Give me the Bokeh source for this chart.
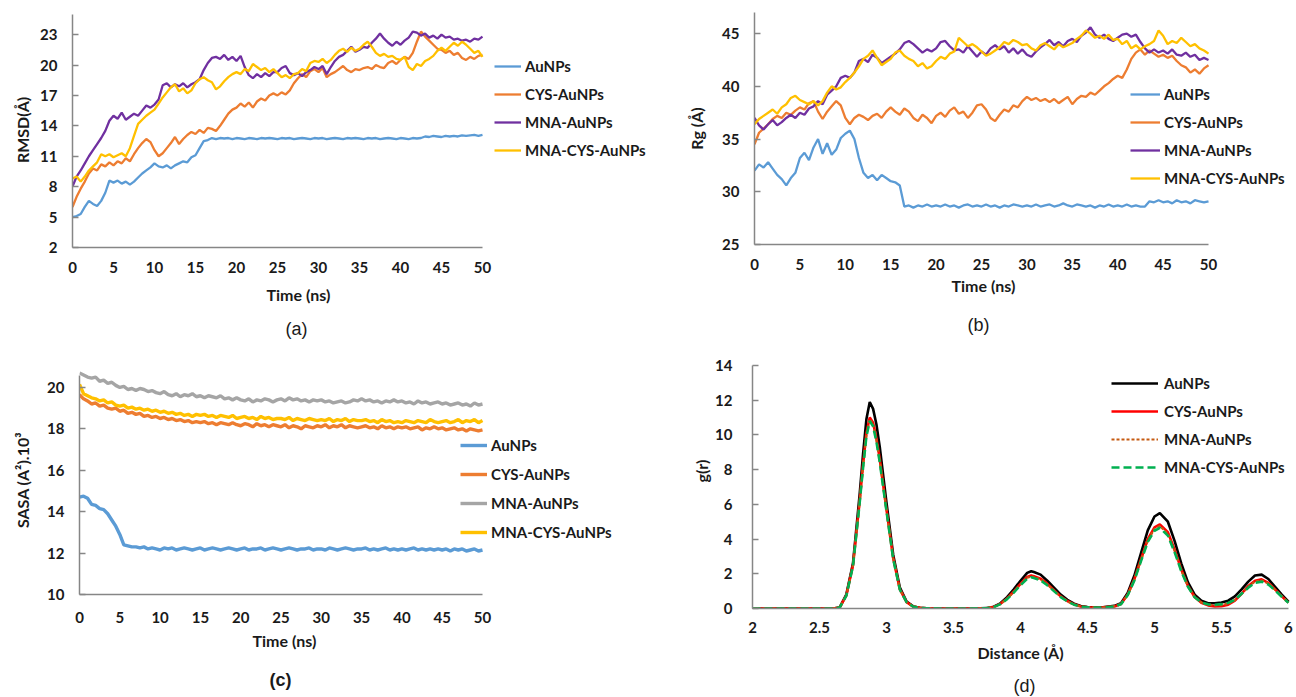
from bokeh.plotting import figure
from bokeh.layouts import column, row
from bokeh.models import Legend, LegendItem, Title, FixedTicker, Range1d, NumeralTickFormatter
from bokeh.embed import file_html
from bokeh.resources import INLINE

# ---------------- data ----------------
TIME_NS = [i * 0.5 for i in range(101)]
SERIES_NAMES = ["AuNPs", "CYS-AuNPs", "MNA-AuNPs", "MNA-CYS-AuNPs"]

RMSD_AUNPS = [5.0, 5.1, 5.3, 6.0, 6.6, 6.3, 6.1, 6.6, 7.4, 8.6,
              8.4, 8.6, 8.3, 8.5, 8.2, 8.5, 8.9, 9.3, 9.6, 9.9,
              10.3, 10.0, 9.9, 10.1, 9.8, 10.1, 10.3, 10.5, 10.4, 10.9,
              11.1, 11.8, 12.5, 12.6, 12.8, 12.7, 12.8, 12.75, 12.8, 12.7,
              12.8, 12.75, 12.7, 12.8, 12.75, 12.7, 12.8, 12.75, 12.8, 12.75,
              12.7, 12.8, 12.75, 12.8, 12.7, 12.75, 12.8, 12.75, 12.7, 12.8,
              12.75, 12.8, 12.7, 12.75, 12.8, 12.75, 12.7, 12.8, 12.75, 12.8,
              12.75, 12.7, 12.8, 12.75, 12.8, 12.7, 12.75, 12.8, 12.75, 12.7,
              12.8, 12.75, 12.7, 12.8, 12.75, 12.8, 12.95, 12.9, 13.0, 12.95,
              12.9, 13.0, 12.95, 13.0, 12.95, 13.05, 13.0, 13.05, 13.1, 13.0,
              13.1]
RMSD_CYS = [6.0, 7.0, 7.8, 8.5, 9.3, 9.8, 9.6, 10.2, 10.0, 10.4,
            10.1, 10.5, 10.3, 10.8, 10.5, 11.2, 11.8, 12.3, 12.7, 12.4,
            11.6, 11.0, 11.3, 11.8, 12.3, 12.9, 12.2, 12.7, 13.1, 13.4,
            13.2, 13.6, 13.3, 13.8, 13.7, 13.5, 14.0, 14.6, 15.2, 15.6,
            15.8, 16.2, 15.9, 16.3, 15.8, 16.4, 16.7, 16.5, 17.0, 17.2,
            17.0, 17.3, 17.1, 17.5, 18.2, 18.7, 19.1, 18.8, 19.4, 19.6,
            19.3, 19.7, 18.8, 19.1, 19.3, 19.6, 19.9, 19.5, 19.3, 19.6,
            19.5, 19.7, 19.8, 19.6, 20.0, 19.8, 19.7, 20.2, 20.4, 20.1,
            20.5, 20.8, 20.6, 21.2, 22.3, 23.3, 22.8, 22.4, 22.0, 21.6,
            21.5, 21.2, 21.4, 21.0, 21.2, 20.7, 20.5, 20.8, 20.6, 20.9,
            21.0]
RMSD_MNA = [8.0, 9.0, 9.6, 10.3, 11.0, 11.6, 12.2, 12.8, 13.5, 14.5,
            15.0, 14.7, 15.3, 14.6, 14.9, 15.2, 15.0, 15.5, 16.0, 15.8,
            16.1, 16.6, 18.0, 18.2, 17.8, 18.1, 17.9, 18.2, 17.8, 18.1,
            18.3, 18.6, 19.5, 20.2, 20.7, 20.8, 20.6, 21.0, 20.5, 20.8,
            20.4, 20.9, 19.8, 19.0, 18.7, 19.1, 18.8, 19.2, 18.9, 19.3,
            19.3, 19.7, 19.9, 19.2, 19.0, 19.2, 18.9, 19.3, 19.5, 19.8,
            19.6, 19.9, 19.1, 19.8, 20.4, 20.8, 21.0, 21.4, 21.8, 21.3,
            21.5, 21.8, 21.7, 22.2, 22.6, 23.1, 22.6, 22.2, 21.9, 22.3,
            22.0, 22.4, 22.7, 23.3, 23.2, 22.9, 23.1, 22.7, 22.9, 22.6,
            23.0, 22.7, 22.8, 22.5, 22.6, 22.4, 22.5, 22.3, 22.6, 22.5,
            22.8]
RMSD_MNACYS = [8.8, 9.0, 8.5, 9.0, 9.6, 10.0, 10.4, 11.2, 11.0, 11.2,
               10.9, 11.1, 11.3, 11.0, 11.8, 13.0, 14.2, 14.6, 15.0, 15.3,
               15.6, 16.2, 16.8, 17.3, 17.8, 18.1, 17.4, 17.7, 17.2, 17.5,
               18.2, 18.6, 18.8, 18.5, 18.3, 17.6, 17.9, 18.4, 18.8, 19.1,
               19.3, 19.1, 19.6, 19.4, 20.1, 19.8, 19.5, 19.7, 19.3, 19.6,
               19.2, 18.8, 19.0, 18.7, 19.1, 19.2, 19.6, 19.4, 20.2, 20.4,
               20.3, 20.6, 20.2, 20.5, 21.0, 21.4, 21.6, 21.3, 21.7, 21.4,
               21.6, 22.0, 22.3, 21.8, 21.2, 20.9, 21.1, 20.8, 20.9, 20.6,
               20.5, 20.8, 19.8, 19.5, 20.1, 19.9, 20.4, 20.6, 20.9, 21.4,
               21.7, 21.4, 21.8, 22.2, 21.9, 22.3, 22.0, 21.6, 21.2, 21.4,
               20.8]

RG_AUNPS = [32.0, 32.6, 32.3, 32.8, 32.2, 31.6, 31.2, 30.6, 31.3, 31.8,
            33.2, 33.7, 33.0, 34.2, 35.0, 33.6, 34.6, 33.5, 34.0, 35.1,
            35.5, 35.8, 35.0, 33.2, 31.8, 31.3, 31.6, 31.1, 31.6, 31.3,
            31.0, 30.9, 30.6, 28.6, 28.7, 28.5, 28.7, 28.6, 28.8, 28.6,
            28.7, 28.6, 28.8, 28.6, 28.7, 28.5, 28.7, 28.8, 28.6, 28.7,
            28.6, 28.8, 28.6, 28.7, 28.5, 28.7, 28.6, 28.8, 28.7, 28.6,
            28.7, 28.6, 28.8, 28.6, 28.7, 28.8, 28.6, 28.7, 28.9, 28.7,
            28.6, 28.8, 28.7, 28.6, 28.7, 28.5, 28.7, 28.6, 28.8, 28.6,
            28.7, 28.6, 28.8, 28.6, 28.7, 28.6, 28.6, 29.1, 29.0, 29.2,
            29.0, 29.1, 28.9, 29.2, 29.0, 29.1, 28.9, 29.2, 29.1, 29.0,
            29.1]
RG_CYS = [34.5, 35.6, 36.0, 36.4, 36.9, 37.2, 37.0, 37.5, 37.3, 37.7,
          38.0, 37.8, 38.4, 38.6, 37.6, 36.9, 37.6, 38.1, 38.6, 38.2,
          37.0, 36.4, 37.0, 37.3, 37.1, 36.8, 37.2, 37.4, 37.0, 37.6,
          38.0, 37.6, 37.3, 37.9, 37.6, 37.0, 36.7, 37.3, 37.0, 36.5,
          37.2, 37.5, 37.1, 37.7, 38.0, 37.4, 37.6, 37.0, 37.5, 38.2,
          38.3, 37.8, 37.0, 36.7, 37.3, 37.8, 37.6, 38.2, 38.0, 38.6,
          39.0, 38.7, 38.9, 38.6, 38.8, 38.5, 38.8, 38.4, 38.7, 39.0,
          38.3, 38.8, 39.1, 39.0, 39.4, 39.2, 39.6, 40.0, 40.3, 40.7,
          41.0, 40.8, 41.6, 42.6, 43.2, 43.5, 43.0, 43.4, 43.1, 42.8,
          43.0, 42.7, 42.9, 42.4, 42.0, 41.8, 41.3, 41.6, 41.2, 41.7,
          42.0]
RG_MNA = [37.0, 36.3, 35.9, 36.4, 36.8, 36.3, 36.6, 37.0, 37.3, 37.0,
          37.5, 37.3, 37.9, 38.1, 38.6, 38.3, 39.2, 39.6, 40.0, 40.8,
          41.0, 40.8, 41.3, 42.4, 42.6, 42.3, 43.0, 42.7, 42.2, 42.5,
          42.8, 43.1, 43.5, 44.1, 44.3, 44.0, 43.6, 43.2, 43.5, 43.3,
          43.6, 44.2, 44.3, 43.8, 43.4, 43.5, 43.2, 43.8, 43.3, 42.8,
          43.3, 43.0, 43.6, 43.9, 43.5, 43.8, 43.2, 43.6, 43.1, 43.5,
          43.0, 42.8, 43.3, 43.7, 44.0, 44.4, 43.9, 44.2, 43.8, 44.3,
          44.5, 44.2, 44.8, 45.1, 45.6, 44.9, 44.6, 44.9, 44.5, 44.3,
          44.6, 44.9, 45.0, 44.7, 44.9, 44.2, 43.6, 43.2, 43.5, 43.2,
          43.4, 43.1, 43.5, 43.0, 42.9, 43.2, 42.8, 43.0, 42.5, 42.7,
          42.5]
RG_MNACYS = [36.4, 36.9, 37.2, 37.5, 37.8, 37.4, 38.0, 38.3, 38.9, 39.1,
             38.7, 38.5, 38.3, 38.6, 38.2, 38.6, 39.4, 40.0, 39.7, 39.9,
             40.4, 40.8, 41.3, 41.9, 42.6, 42.9, 43.4, 42.7, 42.0, 42.3,
             42.6, 43.2, 43.4, 42.9, 42.6, 42.4, 41.9, 42.2, 41.7, 41.9,
             42.4, 42.8, 42.6, 43.1, 43.3, 44.6, 44.2, 43.8, 44.0, 43.7,
             43.3, 42.9, 43.1, 43.4, 43.7, 44.2, 44.0, 44.4, 44.2, 43.9,
             44.0, 43.6, 43.4, 43.9, 44.1, 43.8, 43.5, 44.0, 43.7, 43.9,
             44.1, 44.5, 44.8, 45.3, 45.0, 44.6, 44.8, 44.5, 44.9, 44.4,
             44.5, 44.0, 44.3, 43.6, 43.9, 43.5, 43.8, 44.0, 44.3, 45.3,
             44.8, 44.0, 44.3, 44.1, 44.6, 44.2, 43.8, 44.0, 43.6, 43.4,
             43.1]

SASA_AUNPS = [14.7, 14.75, 14.65, 14.35, 14.3, 14.15, 14.1, 13.9, 13.6, 13.3,
              12.9, 12.4, 12.35, 12.3, 12.3, 12.25, 12.3, 12.2, 12.25, 12.2,
              12.15, 12.25, 12.2, 12.25, 12.15, 12.2, 12.25, 12.2, 12.15, 12.2,
              12.25, 12.15, 12.2, 12.25, 12.2, 12.15, 12.2, 12.25, 12.2, 12.15,
              12.2, 12.25, 12.15, 12.2, 12.2, 12.25, 12.15, 12.2, 12.25, 12.2,
              12.15, 12.2, 12.25, 12.2, 12.15, 12.2, 12.2, 12.25, 12.15, 12.2,
              12.2, 12.15, 12.25, 12.2, 12.15, 12.2, 12.25, 12.2, 12.15, 12.2,
              12.2, 12.25, 12.15, 12.2, 12.15, 12.2, 12.25, 12.15, 12.2, 12.15,
              12.2, 12.15, 12.2, 12.25, 12.15, 12.2, 12.15, 12.2, 12.15, 12.2,
              12.15, 12.2, 12.1, 12.2, 12.15, 12.2, 12.1, 12.15, 12.2, 12.1,
              12.15]
SASA_CYS = [19.65, 19.45, 19.35, 19.2, 19.25, 19.1, 19.15, 19.0, 18.95, 19.0,
            18.85, 18.9, 18.75, 18.8, 18.7, 18.75, 18.6, 18.65, 18.55, 18.6,
            18.5, 18.55, 18.45, 18.5, 18.4, 18.45, 18.35, 18.4, 18.3, 18.35,
            18.3, 18.35, 18.25, 18.3, 18.2, 18.3, 18.25, 18.2, 18.3, 18.2,
            18.15, 18.25, 18.2, 18.1, 18.25, 18.15, 18.2, 18.1, 18.2, 18.15,
            18.1, 18.2, 18.05, 18.15, 18.1, 18.0, 18.15, 18.1, 18.05, 18.15,
            18.1, 18.2, 18.05, 18.15, 18.1, 18.2, 18.05, 18.15, 18.1, 18.05,
            18.1, 18.15, 18.05, 18.1, 18.0, 18.15, 18.05, 18.1, 18.0, 18.1,
            18.05, 18.1, 18.0, 18.05, 18.1, 17.95, 18.05, 18.0, 18.1, 18.0,
            18.05, 17.95, 18.0, 18.05, 17.95, 18.0, 17.9, 18.0, 17.95, 17.9,
            17.95]
SASA_MNA = [20.7, 20.6, 20.5, 20.45, 20.5, 20.3, 20.35, 20.2, 20.25, 20.1,
            20.0, 20.05, 19.9, 19.95, 19.85, 19.95, 19.9, 19.8, 19.85, 19.75,
            19.7, 19.8, 19.65, 19.6, 19.7, 19.55, 19.65, 19.6, 19.7, 19.55,
            19.6, 19.5, 19.6, 19.55, 19.5, 19.6, 19.45, 19.5, 19.4, 19.5,
            19.4, 19.35, 19.45, 19.3, 19.4, 19.35, 19.45, 19.4, 19.3, 19.4,
            19.45, 19.35, 19.5, 19.4, 19.45, 19.35, 19.4, 19.3, 19.4, 19.35,
            19.4, 19.3, 19.35, 19.25, 19.3, 19.35, 19.25, 19.3, 19.4, 19.35,
            19.45, 19.35, 19.4, 19.3, 19.35, 19.25, 19.35, 19.3, 19.4, 19.3,
            19.35, 19.25, 19.3, 19.2, 19.35, 19.25, 19.3, 19.2, 19.25, 19.3,
            19.2, 19.25, 19.15, 19.2, 19.25, 19.15, 19.2, 19.1, 19.25, 19.15,
            19.2]
SASA_MNACYS = [20.15, 19.7, 19.6, 19.5, 19.45, 19.35, 19.4, 19.25, 19.3, 19.15,
               19.1, 19.15, 19.0, 19.05, 18.95, 19.0, 18.9, 18.95, 18.85, 18.9,
               18.8, 18.85, 18.75, 18.8, 18.7, 18.75, 18.65, 18.7, 18.6, 18.7,
               18.65, 18.7, 18.6, 18.65, 18.55, 18.65, 18.6, 18.55, 18.65, 18.5,
               18.55, 18.6, 18.5, 18.55, 18.45, 18.6, 18.5, 18.55, 18.45, 18.5,
               18.5, 18.45, 18.55, 18.4, 18.5, 18.45, 18.4, 18.5, 18.45, 18.4,
               18.45, 18.4, 18.5, 18.35, 18.45, 18.4, 18.5, 18.35, 18.45, 18.4,
               18.4, 18.45, 18.35, 18.4, 18.3, 18.45, 18.35, 18.4, 18.3, 18.35,
               18.3, 18.4, 18.35, 18.3, 18.4, 18.35, 18.3, 18.45, 18.35, 18.3,
               18.35, 18.4, 18.3, 18.35, 18.45, 18.3, 18.4, 18.35, 18.45, 18.3,
               18.4]

DISTANCE_A = [2.0, 2.2, 2.4, 2.6, 2.65, 2.7, 2.75, 2.8, 2.825, 2.85,
              2.875, 2.9, 2.925, 2.95, 3.0, 3.05, 3.1, 3.15, 3.2, 3.25,
              3.3, 3.4, 3.5, 3.6, 3.7, 3.75, 3.8, 3.85, 3.9, 3.95,
              4.0, 4.05, 4.08, 4.1, 4.15, 4.2, 4.25, 4.3, 4.35, 4.4,
              4.45, 4.5, 4.6, 4.7, 4.75, 4.8, 4.85, 4.9, 4.95, 5.0,
              5.04, 5.1, 5.15, 5.2, 5.25, 5.3, 5.35, 5.4, 5.45, 5.5,
              5.55, 5.6, 5.65, 5.7, 5.75, 5.8, 5.85, 5.9, 5.95, 6.0]
GR_AUNPS = [0, 0, 0, 0, 0.05, 0.8, 2.6, 6.6, 8.9, 10.9,
            11.9, 11.5, 10.6, 9.3, 6.1, 3.1, 1.2, 0.4, 0.12, 0.04,
            0.01, 0, 0, 0, 0.01, 0.02, 0.1, 0.3, 0.65, 1.1,
            1.6, 2.05, 2.15, 2.1, 1.95, 1.6, 1.2, 0.8, 0.5, 0.28,
            0.14, 0.08, 0.06, 0.15, 0.3, 0.9, 1.9, 3.2, 4.5, 5.3,
            5.5, 5.0, 3.9, 2.6, 1.5, 0.8, 0.45, 0.3, 0.3, 0.35,
            0.45, 0.7, 1.1, 1.55, 1.9, 1.95, 1.7, 1.25, 0.8, 0.4]
GR_CYS = [0, 0, 0, 0, 0.05, 0.75, 2.5, 6.2, 8.3, 10.1,
          11.0, 10.7, 9.8, 8.6, 5.7, 2.9, 1.1, 0.37, 0.11, 0.04,
          0.01, 0, 0, 0, 0.01, 0.02, 0.09, 0.27, 0.58, 0.98,
          1.42, 1.82, 1.9, 1.86, 1.72, 1.42, 1.06, 0.7, 0.43, 0.24,
          0.12, 0.07, 0.05, 0.12, 0.26, 0.8, 1.7, 2.85, 4.0, 4.68,
          4.85, 4.4, 3.4, 2.25, 1.3, 0.66, 0.33, 0.18, 0.12, 0.13,
          0.22, 0.45, 0.85, 1.3, 1.6, 1.68, 1.48, 1.1, 0.7, 0.35]
GR_MNA = [0, 0, 0, 0, 0.05, 0.74, 2.48, 6.15, 8.2, 10.0,
          10.9, 10.6, 9.7, 8.5, 5.65, 2.9, 1.1, 0.37, 0.11, 0.04,
          0.01, 0, 0, 0, 0.01, 0.02, 0.09, 0.26, 0.56, 0.95,
          1.38, 1.77, 1.85, 1.81, 1.68, 1.38, 1.03, 0.68, 0.42, 0.23,
          0.12, 0.07, 0.05, 0.12, 0.26, 0.78, 1.66, 2.8, 3.92, 4.58,
          4.75, 4.3, 3.33, 2.2, 1.28, 0.66, 0.35, 0.22, 0.18, 0.2,
          0.28, 0.48, 0.85, 1.25, 1.55, 1.62, 1.44, 1.08, 0.7, 0.35]
GR_MNACYS = [0, 0, 0, 0, 0.05, 0.73, 2.45, 6.1, 8.1, 9.9,
             10.8, 10.5, 9.6, 8.4, 5.6, 2.85, 1.08, 0.36, 0.11, 0.04,
             0.01, 0, 0, 0, 0.01, 0.02, 0.08, 0.25, 0.54, 0.92,
             1.34, 1.72, 1.8, 1.76, 1.63, 1.34, 1.0, 0.66, 0.41, 0.22,
             0.11, 0.07, 0.05, 0.11, 0.25, 0.76, 1.62, 2.74, 3.84, 4.48,
             4.65, 4.2, 3.25, 2.15, 1.25, 0.65, 0.35, 0.24, 0.22, 0.25,
             0.32, 0.5, 0.85, 1.2, 1.48, 1.55, 1.38, 1.05, 0.68, 0.33]

TIME_TICKS = [0, 5, 10, 15, 20, 25, 30, 35, 40, 45, 50]
RMSD_TICKS = [2, 5, 8, 11, 14, 17, 20, 23]
RG_TICKS = [25, 30, 35, 40, 45]
SASA_TICKS = [10, 12, 14, 16, 18, 20]
GR_TICKS = [0, 2, 4, 6, 8, 10, 12, 14]
DIST_TICKS = [2, 2.5, 3, 3.5, 4, 4.5, 5, 5.5, 6]

# ---------------- styling ----------------
FONT = "Lato"
AXIS_GREY = "#868686"
TXT = "#1a1a1a"
BLUE, ORANGE, PURPLE, YELLOW, GREY = "#5B9BD5", "#ED7D31", "#7030A0", "#FFC000", "#A5A5A5"


def base_fig(fw, fh, left, right, top, bottom, xr, yr, xb, yb, xticks, yticks,
             ystand=15, xstand=8):
    p = figure(frame_width=fw, frame_height=fh, x_range=Range1d(*xr), y_range=Range1d(*yr),
               min_border_left=left, min_border_right=right, min_border_top=top,
               min_border_bottom=bottom, output_backend="svg", toolbar_location=None)
    p.outline_line_color = None
    p.xgrid.visible = False
    p.ygrid.visible = False
    for ax in (p.xaxis[0], p.yaxis[0]):
        ax.axis_line_color = AXIS_GREY
        ax.axis_line_width = 1.5
        ax.major_label_text_font = FONT
        ax.major_label_text_font_style = "bold"
        ax.major_label_text_font_size = "15px"
        ax.major_label_text_color = TXT
        ax.minor_tick_line_color = None
        ax.axis_label_text_font = FONT
        ax.axis_label_text_font_style = "bold"
        ax.axis_label_text_font_size = "16px"
        ax.axis_label_text_color = TXT
    p.xaxis.bounds = xb
    p.yaxis.bounds = yb
    p.xaxis.ticker = FixedTicker(ticks=xticks)
    p.yaxis.ticker = FixedTicker(ticks=yticks)
    p.xaxis.major_tick_line_color = None
    p.xaxis.major_label_standoff = xstand
    p.yaxis.major_tick_in = 6
    p.yaxis.major_tick_out = 0
    p.yaxis.major_tick_line_color = AXIS_GREY
    p.yaxis.major_tick_line_width = 1.5
    p.yaxis.major_label_standoff = ystand
    return p


def add_title(p, text, place="below", size="16px", style="bold", font=FONT, standoff=8, offset=0):
    # align="left": offset = distance of the text start from the frame edge
    p.add_layout(Title(text=text, align="left", offset=offset, standoff=standoff,
                       text_font=font, text_font_size=size, text_font_style=style,
                       text_color=TXT), place)


def add_legend(p, items, loc, glyph_w=27, spacing=8, standoff=4):
    leg = Legend(items=[LegendItem(label=l, renderers=[r]) for l, r in items],
                 location=loc, orientation="vertical", glyph_width=glyph_w, glyph_height=20,
                 label_height=20, spacing=spacing, padding=0, margin=0, label_standoff=standoff,
                 border_line_color=None, background_fill_alpha=0,
                 label_text_font=FONT, label_text_font_style="bold",
                 label_text_font_size="15px", label_text_color=TXT)
    p.add_layout(leg, "center")


# ---- (a) RMSD ----
pa = base_fig(584, 235, 72, 4, 12, 101, (0, 71.22), (2, 25.18), (0, 50), (2, 25),
              TIME_TICKS, RMSD_TICKS)
pa.yaxis.axis_label = "RMSD(Å)"
pa.yaxis.axis_label_standoff = 5
ra = []
for ys, c in zip([RMSD_AUNPS, RMSD_CYS, RMSD_MNA, RMSD_MNACYS], [BLUE, ORANGE, PURPLE, YELLOW]):
    ra.append(pa.line(TIME_NS, ys, line_color=c, line_width=2.3))
add_legend(pa, list(zip(SERIES_NAMES, ra)), (422, 87))
add_title(pa, "Time (ns)", offset=194, standoff=14)
add_title(pa, "(a)", size="18px", style="normal", font="Liberation Sans", standoff=12, offset=213)

# ---- (b) Rg ----
pb = base_fig(540, 232, 94, 2, 12, 104, (0, 59.47), (25, 47.0), (0, 50), (25, 47),
              TIME_TICKS, RG_TICKS)
pb.yaxis.axis_label = "Rg (Å)"
pb.yaxis.axis_label_standoff = 13
rb = []
for ys, c in zip([RG_AUNPS, RG_CYS, RG_MNA, RG_MNACYS], [BLUE, ORANGE, PURPLE, YELLOW]):
    rb.append(pb.line(TIME_NS, ys, line_color=c, line_width=2.3))
add_legend(pb, list(zip(SERIES_NAMES, rb)), (376, 56), glyph_w=30)
add_title(pb, "Time (ns)", standoff=3, offset=197)
add_title(pb, "(b)", size="18px", style="normal", font="Liberation Sans", standoff=32, offset=213)

# ---- (c) SASA ----
pc = base_fig(577, 229, 79, 4, 15, 103, (0, 71.59), (10, 21.06), (0, 50), (10, 20.6),
              TIME_TICKS, SASA_TICKS, xstand=11)
pc.yaxis.axis_label = "SASA (A²).10³"
pc.yaxis.axis_label_standoff = 12
rc = []
for ys, c in zip([SASA_AUNPS, SASA_CYS, SASA_MNA, SASA_MNACYS], [BLUE, ORANGE, GREY, YELLOW]):
    rc.append(pc.line(TIME_NS, ys, line_color=c, line_width=3.4))
add_legend(pc, list(zip(SERIES_NAMES, rc)), (381, 52), spacing=9)
add_title(pc, "Time (ns)", standoff=6, offset=173)
add_title(pc, "(c)", size="18px", style="bold", font="Liberation Sans", standoff=31, offset=190)

# ---- (d) RDF ----
pd = base_fig(542, 243, 92, 2, 15, 89, (2, 6.045), (0, 14), (2, 6), (0, 14),
              DIST_TICKS, GR_TICKS, ystand=20, xstand=7)
pd.xaxis.formatter = NumeralTickFormatter(format="0.[0]")
rd = [
    pd.line(DISTANCE_A, GR_AUNPS, line_color="black", line_width=2.6),
    pd.line(DISTANCE_A, GR_CYS, line_color="#FF0000", line_width=2.6),
    pd.line(DISTANCE_A, GR_MNA, line_color="#C55A11", line_width=2.2, line_dash="3 2"),
    pd.line(DISTANCE_A, GR_MNACYS, line_color="#00B050", line_width=2.6, line_dash="8 4"),
]
add_legend(pd, list(zip(SERIES_NAMES, rd)), (359, 131), glyph_w=47, standoff=6)
add_title(pd, "g(r)", place="left", standoff=3, offset=126)
add_title(pd, "Distance (Å)", standoff=11, offset=225)
add_title(pd, "(d)", size="18px", style="normal", font="Liberation Sans", standoff=12, offset=261)

layout = column(row(pa, pb), row(pc, pd))
open("out.html", "w").write(file_html(layout, INLINE))
